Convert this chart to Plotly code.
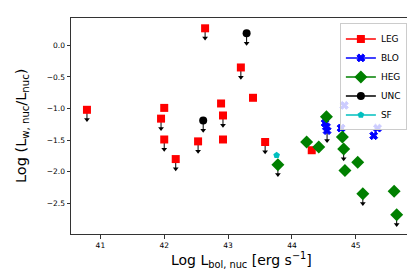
import plotly.graph_objects as go

# LEG (red squares)
leg_x = [40.79, 41.95, 42.00, 42.64, 42.89, 42.92, 42.18, 42.53, 42.92, 43.20, 43.39, 43.58, 44.31, 42.00]
leg_y = [-1.02, -1.16, -0.99, 0.27, -0.92, -1.11, -1.80, -1.52, -1.49, -0.35, -0.83, -1.53, -1.66, -1.49]
leg_lim = [1, 1, 0, 1, 0, 1, 1, 1, 0, 1, 0, 1, 0, 1]

# BLO (blue X)
blo_x = [44.52, 44.54, 44.55, 44.77, 44.82, 45.28, 45.34]
blo_y = [-1.23, -1.29, -1.35, -1.31, -0.95, -1.43, -1.31]
blo_lim = [0, 0, 1, 0, 0, 0, 0]

# HEG (green diamonds)
heg_x = [44.54, 44.23, 44.42, 43.78, 44.79, 44.81, 45.03, 44.83, 45.11, 45.60, 45.64]
heg_y = [-1.13, -1.53, -1.61, -1.89, -1.45, -1.64, -1.85, -1.98, -2.35, -2.31, -2.68]
heg_lim = [0, 0, 0, 1, 0, 1, 0, 0, 1, 0, 1]

# UNC (black circles)
unc_x = [42.61, 43.29]
unc_y = [-1.19, 0.19]
unc_lim = [1, 1]

# SF (cyan pentagon)
sf_x = [43.76]
sf_y = [-1.74]
sf_lim = [0]

x_ticks = [41, 42, 43, 44, 45]
y_ticks = [0, -0.5, -1, -1.5, -2, -2.5]
x_title = "Log L<sub>bol, nuc</sub> [erg s<sup>−1</sup>]"
y_title = "Log (L<sub>w, nuc</sub>/L<sub>nuc</sub>)"

groups = [
    ("LEG", leg_x, leg_y, leg_lim, "#ff0000", "square", 8, 0),
    ("BLO", blo_x, blo_y, blo_lim, "#0000ff", "x", 7, 1),
    ("HEG", heg_x, heg_y, heg_lim, "#008000", "diamond", 10, 0),
    ("UNC", unc_x, unc_y, unc_lim, "#000000", "circle", 8, 0),
    ("SF", sf_x, sf_y, sf_lim, "#00bfbf", "pentagon", 7, 0),
]

ARROW_LEN = 0.19   # length of the upper-limit arrow, data units
HEAD_OFF = 0.035   # centre of arrow head above the tip, data units

fig = go.Figure()

# upper-limit arrows: stems (error bars) and heads (triangle markers)
for name, xs, ys, lims, col, sym, sz, lw in groups:
    lx = [x for x, l in zip(xs, lims) if l]
    ly = [y for y, l in zip(ys, lims) if l]
    if not lx:
        continue
    fig.add_trace(go.Scatter(
        x=lx, y=ly, mode="markers", showlegend=False, hoverinfo="skip",
        marker=dict(size=1, color="rgba(0,0,0,0)"),
        error_y=dict(type="data", symmetric=False, array=[0] * len(lx),
                     arrayminus=[ARROW_LEN - 0.02] * len(lx), color="black",
                     thickness=1, width=0)))
    fig.add_trace(go.Scatter(
        x=lx, y=[y - ARROW_LEN + HEAD_OFF for y in ly], mode="markers",
        showlegend=False, hoverinfo="skip",
        marker=dict(symbol="triangle-down", size=5, color="black", line=dict(width=0))))

for name, xs, ys, lims, col, sym, sz, lw in groups:
    fig.add_trace(go.Scatter(x=xs, y=ys, mode="markers", showlegend=False,
                             marker=dict(symbol=sym, size=sz, color=col,
                                         line=dict(width=lw, color=col))))
for name, xs, ys, lims, col, sym, sz, lw in groups:
    fig.add_trace(go.Scatter(x=[None], y=[None], mode="lines+markers", name=name,
                             line=dict(color=col, width=1.5),
                             marker=dict(symbol=sym, size=sz, color=col,
                                         line=dict(width=lw, color=col))))

fig.update_layout(
    width=415, height=277,
    margin=dict(l=63, r=11, t=10, b=51),
    paper_bgcolor="white", plot_bgcolor="white",
    font=dict(family="DejaVu Sans", color="black", size=10),
    legend=dict(x=0.985, y=0.975, xanchor="right", yanchor="top",
                bgcolor="rgba(255,255,255,0.8)", bordercolor="#cccccc", borderwidth=1,
                font=dict(size=9), itemwidth=30, tracegroupgap=0),
    annotations=[
        dict(text=x_title, xref="paper", yref="paper", x=0.5, y=0,
             xanchor="center", yanchor="middle", yshift=-26, showarrow=False,
             font=dict(size=14)),
        dict(text=y_title, xref="paper", yref="paper", x=0, y=0.5,
             xanchor="center", yanchor="middle", xshift=-49, textangle=-90,
             showarrow=False, font=dict(size=14.5)),
    ],
)
fig.update_xaxes(range=[40.54, 45.88], tickvals=x_ticks,
                 showgrid=False, zeroline=False, showline=True, mirror=True,
                 linecolor="#333333", linewidth=1, ticks="outside", ticklen=3.5,
                 tickcolor="#333333", tickfont=dict(size=7.5))
fig.update_yaxes(range=[-2.986, 0.433], tickvals=y_ticks,
                 tickformat=".1f",
                 showgrid=False, zeroline=False, showline=True, mirror=True,
                 linecolor="#333333", linewidth=1, ticks="outside", ticklen=3.5,
                 tickcolor="#333333", tickfont=dict(size=7.5))

fig.write_html("out.html")
